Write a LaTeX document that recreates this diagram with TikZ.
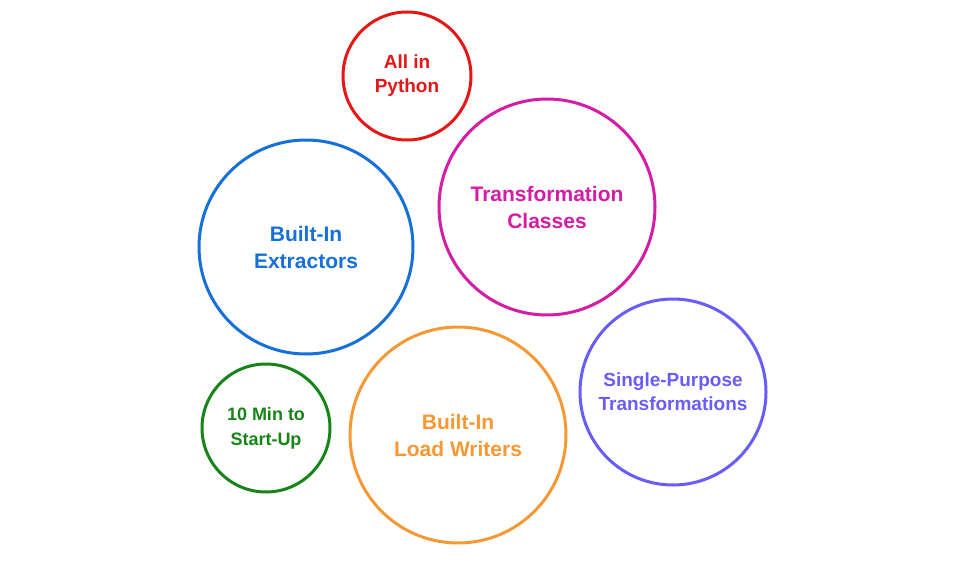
\documentclass[tikz,border=0pt]{standalone}
\usepackage{fontspec}
\setmainfont{Liberation Sans}
\tikzset{bub/.style={draw,circle,line width=3pt,inner sep=0pt,align=center,font=\bfseries\fontsize{19}{24}\selectfont}}
\definecolor{cred}{RGB}{228,22,22}
\definecolor{cmag}{RGB}{212,28,164}
\definecolor{cblue}{RGB}{22,112,218}
\definecolor{cpurp}{RGB}{104,92,250}
\definecolor{cgreen}{RGB}{22,132,22}
\definecolor{corange}{RGB}{246,152,52}
\begin{document}
\begin{tikzpicture}[x=1pt,y=-1pt]
        \useasboundingbox (0,0) rectangle (967,562);
        \node[bub, cred, minimum size=128pt] (py) at (407,76) {All in\\Python};
        \node[bub, cmag, minimum size=216pt, font=\bfseries\fontsize{21}{27}\selectfont] (tc) at (547,207) {Transformation\\Classes};
        \node[bub, cblue, minimum size=214pt, font=\bfseries\fontsize{21}{27}\selectfont] (ex) at (306,247) {Built-In\\Extractors};
        \node[bub, cpurp, minimum size=186pt] (sp) at (673,392) {Single-Purpose\\Transformations};
        \node[bub, cgreen, minimum size=128pt, font=\bfseries\fontsize{18}{25}\selectfont] (tm) at (266,428) {10 Min to\\Start-Up};
        \node[bub, corange, minimum size=216pt, font=\bfseries\fontsize{21}{27}\selectfont] (lw) at (458,435) {Built-In\\Load Writers};
    \end{tikzpicture}
\end{document}
